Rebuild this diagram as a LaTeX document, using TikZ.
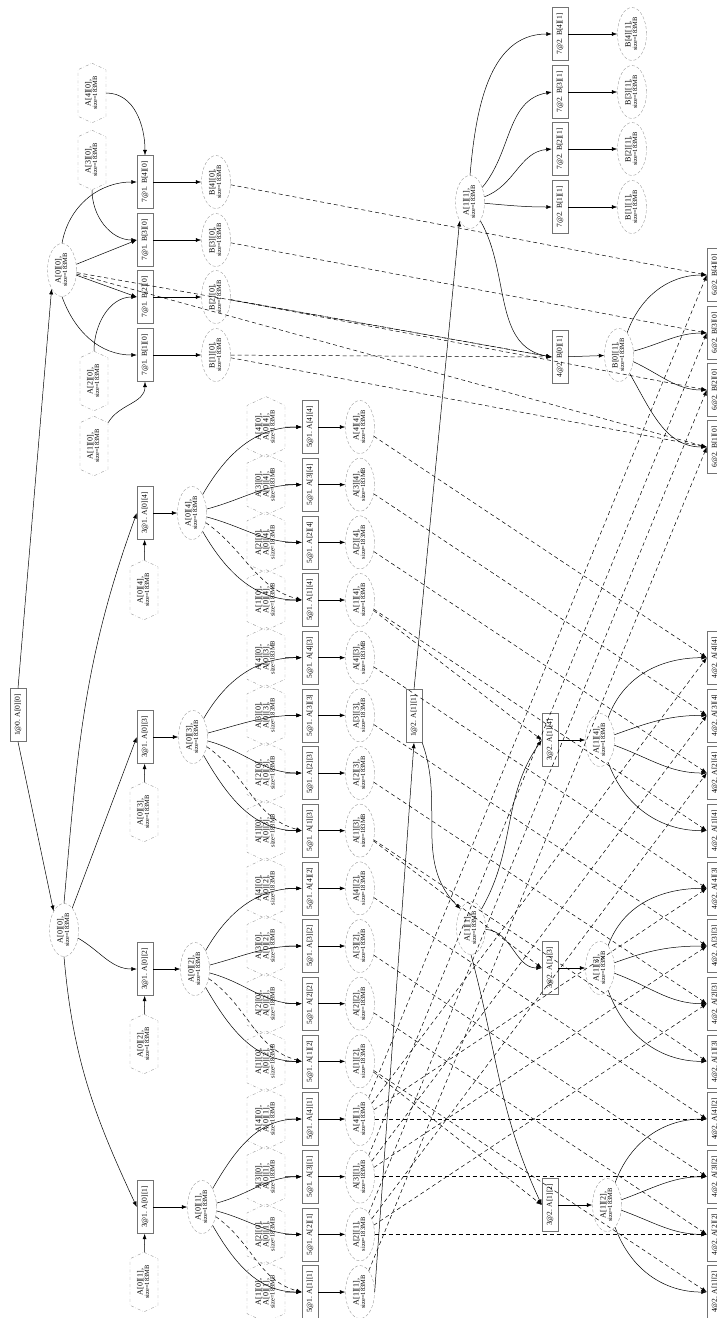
\documentclass[tikz,border=0pt]{standalone}
\usepackage{fontspec}
\setmainfont{Liberation Serif}
\usetikzlibrary{arrows.meta,shapes.geometric,shapes.symbols}
\newcommand\vt[1]{\rotatebox{90}{#1}}
\newcommand\szfont{\fontsize{6.5}{7}\selectfont}
\newcommand\dat[1]{\rotatebox{90}{\renewcommand\arraystretch{0.75}\begin{tabular}{@{}c@{}}#1,\\\szfont size=183MB\end{tabular}}}
\newcommand\dattwo[2]{\rotatebox{90}{\renewcommand\arraystretch{0.75}\begin{tabular}{@{}c@{}}#1,\\#2,\\\szfont size=183MB\end{tabular}}}

\begin{document}
\begin{tikzpicture}[x=1pt,y=1pt,
  task/.style={draw=black!55,minimum width=16pt,minimum height=53pt,inner sep=0pt,
    font=\fontsize{7.5}{8}\selectfont},
  data/.style={ellipse,draw=black!40,dash pattern=on 3pt off 2pt,minimum width=29pt,
    minimum height=53pt,inner sep=0pt,font=\fontsize{8}{8.5}\selectfont},
  seed/.style={signal,signal to=north and south,signal pointer angle=130,draw=black!40,
    dash dot,minimum width=28pt,minimum height=53pt,inner sep=0pt,font=\fontsize{8}{8.5}\selectfont},
  seedw/.style={seed,minimum width=38pt},
  dep/.style={-{Latex[length=5.5pt,width=4pt]},line width=0.5pt},
  war/.style={dep,dash pattern=on 4pt off 3pt}
]
\useasboundingbox (0,0) rectangle (717,-1318);
\clip (0,0) rectangle (717,-1318);

% step 0
\node[task] (tA00) at (18,-715) {\vt{1@0. A[0][0]}};
\node[data] (dA00u) at (62,-270) {\dat{A[0][0]}};
\node[data] (dA00l) at (64,-930) {\dat{A[0][0]}};
\draw[dep] (tA00.north) -- (dA00u.south west);
\draw[dep] (tA00.south) -- (dA00l.north west);

% column panel B
\foreach \k/\y in {4/182,3/240,2/297,1/355}{
  \node[task] (tB\k) at (145,-\y) {\vt{7@1. B[\k][0]}};
  \node[data] (dB\k) at (216,-\y) {\dat{B[\k][0]}};
  \draw[dep] (tB\k) -- (dB\k);
}
\node[seed] (iB4) at (92,-93) {\dat{A[4][0]}};
\node[seed] (iB3) at (92,-160) {\dat{A[3][0]}};
\node[seed] (iB2) at (94,-381) {\dat{A[2][0]}};
\node[seed] (iB1) at (94,-446) {\dat{A[1][0]}};
\draw[dep] (iB4.east) to[out=0,in=90] (tB4.north);
\draw[dep] (iB3.south) to[out=-90,in=180] (tB3.west);
\draw[dep] (iB2.north) to[out=90,in=180] (tB2.west);
\draw[dep] (iB1.north east) to[out=60,in=-90] (tB1.south);
\draw[dep] (dA00u.north) to[out=80,in=180] (tB4.west);
\draw[dep] (dA00u) -- (tB3.west);
\draw[dep] (dA00u) -- (tB2.west);
\draw[dep] (dA00u.south) to[out=-70,in=180] (tB1.west);

% row panel A
\foreach \j/\y/\hy/\dx in {4/513/590/192,3/737/812/193,2/969/1044/195,1/1207/1282/202}{
  \node[task] (tA0\j) at (145,-\y) {\vt{3@1. A[0][\j]}};
  \node[seed] (iA0\j) at (144,-\hy) {\dat{A[0][\j]}};
  \node[data] (dA0\j) at (\dx,-\y) {\dat{A[0][\j]}};
  \draw[dep] (iA0\j) -- (tA0\j);
  \draw[dep] (tA0\j) -- (dA0\j);
}
\draw[dep] (dA00l.north) to[out=85,in=250] (tA04.west);
\draw[dep] (dA00l) -- (tA03.west);
\draw[dep] (dA00l) to[out=-30,in=180] (tA02.west);
\draw[dep] (dA00l.south) to[out=-85,in=115] (tA01.west);

% trailing update, step 1
\foreach \j [count=\g from 0] in {4,3,2,1}{
  \foreach \i [count=\p from 0] in {4,3,2,1}{
    \pgfmathsetmacro\yy{-(427+(4*\g+\p)*57.67)}
    \node[seedw] (h\i\j) at (266,\yy) {\dattwo{A[\i][0]}{A[0][\j]}};
    \node[task] (u\i\j) at (310,\yy) {\vt{5@1. A[\i][\j]}};
    \node[data] (a\i\j) at (360,\yy) {\dat{A[\i][\j]}};
    \draw[dep] (h\i\j) -- (u\i\j);
    \draw[dep] (u\i\j) -- (a\i\j);
  }
}
\foreach \j in {4,3,2,1}{
  \foreach \i/\o in {4/60,3/15,2/-15,1/-60}
    \draw[dep] (dA0\j) to[out=\o,in=180] (u\i\j.west);
  \draw[war] (dA0\j) to[out=-35,in=165] (u1\j.west);
}

% step 2
\node[task] (tA11) at (414,-716) {\vt{1@2. A[1][1]}};
\node[data] (dA11u) at (470,-202) {\dat{A[1][1]}};
\node[data] (dA11l) at (471,-928) {\dat{A[1][1]}};
\draw[dep] (a11.east) -- (tA11.south);
\draw[dep] (tA11.north) -- (dA11u.south west);
\draw[dep] (tA11.south east) to[out=-70,in=135] (dA11l.north west);

\foreach \k/\y in {4/34,3/92,2/149,1/207}{
  \node[task] (tB\k1) at (560,-\y) {\vt{7@2. B[\k][1]}};
  \node[data] (dB\k1) at (632,-\y) {\dat{B[\k][1]}};
  \draw[dep] (tB\k1) -- (dB\k1);
}
\node[task] (tB01) at (560,-357) {\vt{4@2. B[0][1]}};
\node[data] (dB01) at (619,-355) {\dat{B[0][1]}};
\draw[dep] (tB01) -- (dB01);
\draw[dep] (dA11u.north) to[out=85,in=180] (tB41.west);
\draw[dep] (dA11u) to[out=50,in=190] (tB31.west);
\draw[dep] (dA11u) to[out=20,in=185] (tB21.west);
\draw[dep] (dA11u) to[out=-5,in=180] (tB11.west);
\draw[dep] (dA11u.south east) to[out=-60,in=170] (tB01.west);

\foreach \j/\y/\dx in {4/740/600,3/968/600,2/1205/607}{
  \node[task] (tA1\j) at (550,-\y) {\vt{3@2. A[1][\j]}};
  \node[data] (dA1\j) at (\dx,-\y) {\dat{A[1][\j]}};
  \draw[dep] (tA1\j) -- (dA1\j);
}
\draw[dep] (dA11l.north east) to[out=60,in=235] (tA14.west);
\draw[dep] (dA11l) to[out=-5,in=180] (tA13.west);
\draw[dep] (dA11l.south) to[out=-75,in=115] (tA12.west);

% cut at the right edge
\foreach \k/\y [count=\b] in {4/275,3/333,2/390,1/447}
  \node[task] (rB\b) at (715,-\y) {\vt{6@2. B[\k][0]}};
\foreach \b/\o in {1/70,2/15,3/-25,4/-60}
  \draw[dep] (dB01) to[out=\o,in=180] (rB\b.west);
\foreach \j [count=\g from 1] in {4,3,2}{
  \foreach \i [count=\p from 0] in {4,3,2,1}{
    \pgfmathsetmacro\yy{-(427+(4*\g+\p)*57.67)}
    \node[task] (r\i\j) at (715,\yy) {\vt{4@2. A[\i][\j]}};
  }
  \foreach \i/\o in {4/70,3/20,2/-20,1/-70}
    \draw[dep] (dA1\j) to[out=\o,in=180] (r\i\j.west);
}

% dashed dependencies
\foreach \k/\b in {4/1,3/2,2/3,1/4}
  \draw[war] (dB\k) -- (rB\b.west);
\draw[war] (dB2) -- (tB01.west);
\draw[war] (dB1) -- (tB01.west);
\draw[war] (dA00u) -- (rB4.west);
\draw[war] (dA00u) -- (tB01.west);
\foreach \j in {4,3,2}{
  \foreach \i in {4,3,2,1}
    \draw[war] (a\i\j) -- (r\i\j.west);
  \draw[war] (a1\j) -- (tA1\j.west);
  \foreach \i in {4,3,2}
    \draw[war] (a\i1) -- (r\i\j.west);
}
\foreach \i/\b in {4/1,3/2,2/3,1/4}
  \draw[war] (a\i1) -- (rB\b.west);
\end{tikzpicture}
\end{document}
